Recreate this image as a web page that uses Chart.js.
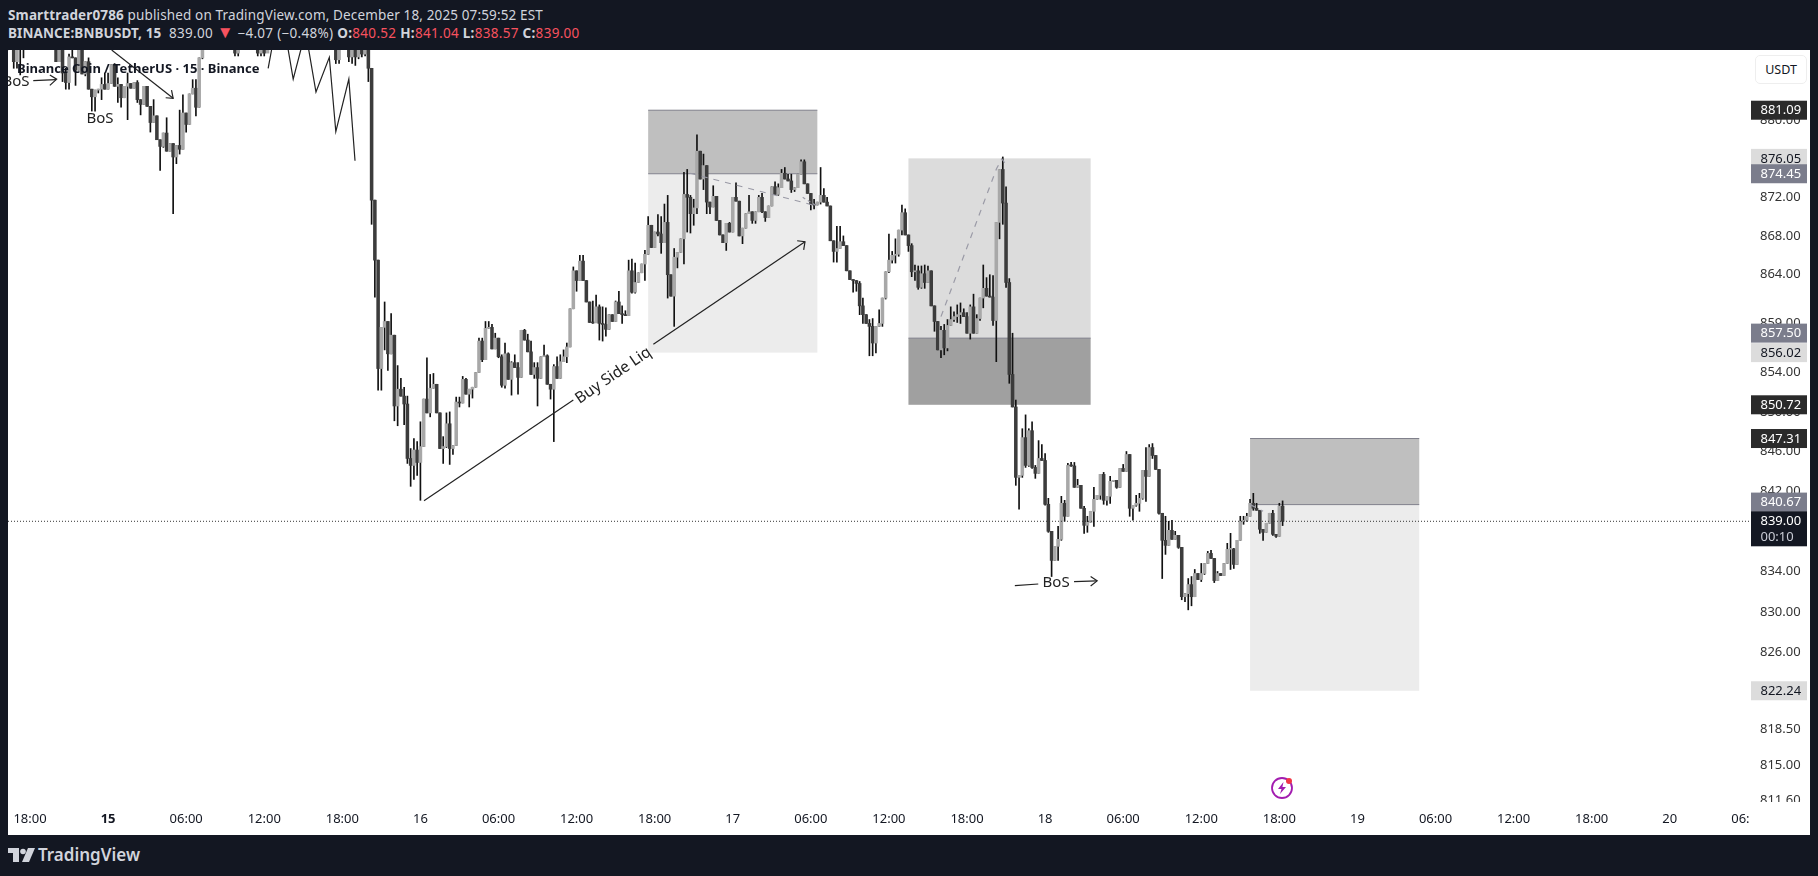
<!DOCTYPE html>
<html><head><meta charset="utf-8"><title>BNBUSDT</title>
<script src="https://cdn.jsdelivr.net/npm/chart.js@4"></script>
<style>
html,body{margin:0;padding:0;width:1818px;height:876px;overflow:hidden;background:#131722;font-family:"Noto Sans",sans-serif}
#pane{position:absolute;left:8px;top:50px;width:1802px;height:785px;background:#fff}
.hd{position:absolute;left:8px;color:#d1d4dc;font-size:13.5px;white-space:nowrap;line-height:18px}
.hd b{font-weight:700}.r{color:#f7525f}
#title{position:absolute;left:17px;top:59px;font-size:13px;font-weight:700;color:#131722;white-space:nowrap;line-height:18px}
#unit{position:absolute;left:1755px;top:55px;width:50px;height:27px;border:1px solid #eee;border-radius:5px;font-size:12.5px;color:#131722;text-align:center;line-height:27px;background:#fff}
#brand{position:absolute;left:38px;top:843px;color:#d1d4dc;font-size:17px;font-weight:600;line-height:24px}
svg{position:absolute}
</style></head><body>
<div id="pane"><canvas id="c" width="1802" height="785"></canvas></div>
<div class="hd" style="top:6px;letter-spacing:.14px"><b>Smarttrader0786</b> published on TradingView.com, December 18, 2025 07:59:52 EST</div>
<div class="hd" style="top:24px;letter-spacing:.3px"><b style="letter-spacing:.1px">BINANCE:BNBUSDT, 15</b>&nbsp; 839.00 <span class="r" style="font-size:17px;line-height:0;letter-spacing:0">▼</span> −4.07 (−0.48%) <b>O:</b><span class="r">840.52</span> <b>H:</b><span class="r">841.04</span> <b>L:</b><span class="r">838.57</span> <b>C:</b><span class="r">839.00</span></div>
<div id="title">Binance Coin / TetherUS · 15 · Binance</div>
<div id="unit">USDT</div>
<svg style="left:8px;top:847px" width="28" height="16" viewBox="0 0 28 16"><path d="M0 1h11v14H5V6H0z" fill="#d1d4dc"/><circle cx="15" cy="4.5" r="2.8" fill="#d1d4dc"/><path d="M20 1h7l-6 14h-7z" fill="#d1d4dc"/></svg>
<div id="brand">TradingView</div>
<svg style="left:1270px;top:776px" width="24" height="24" viewBox="0 0 24 24"><circle cx="12" cy="12" r="10" fill="#fff" stroke="#a21caf" stroke-width="1.8"/><path d="M13.5 6 8 13h3.5L10 18l6-7h-3.6z" fill="#a21caf"/><circle cx="19" cy="5" r="3" fill="#f23645"/></svg>
<script>
// 15-minute candles; x is the bar number counted from Dec 14 18:00
const firstBar = -7;
const firstOpen = 889;
const closes = [
889,890,886.2,889,887.8,888.5,889.5,890.2,889.4,890.8,
891.2,890.1,889.3,888.6,887.8,886.2,889,885,884,886.7,
886.6,885.3,888,884.9,886.2,883.3,882.5,883.2,883.3,883.8,
883.3,883.9,885.9,883.6,883.8,882.4,883.6,883.9,883.4,884,
882.2,881.7,883.6,881.5,879.8,880.5,878,877.3,878.7,876.8,
877.6,876.2,877.4,877,880.8,879.6,882.8,883.4,881.4,886.6,
889,890.4,891.2,890.5,892,891.4,890.2,889.6,888.7,889.8,
887.1,889,890.6,889.5,888.4,889.9,888.8,887.1,889,887.1,
888.3,889.7,891,890.2,889.1,888.2,889.6,890.9,889.8,888.6,
889.5,890.7,889.9,888.8,888.1,889.3,890.5,889.4,888.5,889.2,
888.4,886.4,889,888.5,888.1,886.7,889,886.7,889,887,
887.8,885.5,871.7,865.5,854.4,858.6,859.2,855.9,857.8,850.6,
852.3,851.6,850.8,845.3,844.6,846.15,844.9,846.5,851.3,849.9,
852.4,852.8,849.9,846.3,846.5,848.8,846.3,846.6,851.0,850.9,
853.3,851.8,852.3,852.5,854,857.2,855.3,858.5,858.6,856.4,
857.5,855.6,852.7,855.9,853.3,855,854.5,853.5,858.3,857.3,
856.1,853.8,854.5,853.4,855.6,855.7,852.8,852.3,854.6,853.4,
855.1,855.6,856.6,860.5,864.4,863.4,865.4,863.4,861.2,859.1,
859.05,860.7,859,858.9,858.4,859.9,859.2,861.2,860,859.9,
859.8,864.4,862.2,863.2,864.2,865.1,866.1,869.1,866.8,868.4,
868.2,867.3,869.4,864,861.8,865.8,866.3,867.7,872.3,872,
870.3,870.9,876.8,873.9,875.3,871.5,871,872.1,869.6,868.1,
867.3,869.3,868.4,872,871.6,868,868.8,870.3,870.5,869.6,
870.5,872,870.5,869.9,871.1,873.1,872.3,873,874.5,873.9,
873.7,872.8,873,874.4,875.7,873.4,872.4,871.3,871.2,871.5,
872.2,871.5,871.1,867.5,866.4,866.7,867.4,867,864.4,863.5,
863.4,863.1,860.8,859.9,859,858.7,857,858.7,859,861.6,
864.3,865.5,866,866.1,868.6,870.4,868.1,867,864.3,864.4,
862.7,864.1,863.2,864.4,860.8,859.2,856.3,858.3,856.5,858.8,
859.4,859.7,859.9,860.1,859.7,858,860.7,858,859.5,861.6,
862.6,861.8,861.7,859.3,869.4,874.9,871.4,863.2,853.8,850.5,
843.4,843.6,847.4,844.6,848.1,844.4,843.8,845.3,845.1,840.7,
838,835.1,836.5,837.2,840.8,839.5,844.6,844.55,842.4,842.6,
840.3,838.6,838.9,840,841.2,841.6,843.7,841.1,841.5,843,
843.1,842.4,844.3,844,845.7,840.3,840.6,840.8,841.3,844.1,
843.5,846.4,845.6,844.2,839.8,837.1,836.6,838.1,837.2,837.6,
836.4,831.5,831.8,832.7,831.5,833.8,833.2,833.8,834.8,835.8,
835.3,833.1,833.8,833.6,834.8,836.2,836.25,834.7,837.1,839,
839.1,839.5,840.8,840.3,840.1,838.2,837.9,838.8,839.8,837.7,
837.5,840.52,839];
const highs = [
891,891,890,890,889,889,890.5,891,890.5,891.5,
892,891,890.5,889.5,889,888.5,890,888.5,885.5,887,
888.5,886.6,888.5,888,886.2,886.6,883.3,883.2,883.3,884.5,
885,885,885.9,886,884.5,883.8,883.6,885,883.9,884,
884.2,882.2,883.6,883.6,881.5,882.2,880.5,878,878.7,880.3,
877.6,877.6,877.4,881.1,882.7,880.8,882.8,884.3,884.3,886.6,
890,891.2,892,891.8,893,892.5,891,890.8,890,890.8,
889,890,891.5,890.8,889.8,890.8,889.8,888.9,890,889,
889.5,890.8,892,891.3,890.3,889.4,890.6,892,890.9,889.8,
890.6,891.6,890.8,890,889.2,890.2,891.5,890.6,889.6,890.1,
889.4,888.6,890,889.6,889.2,888.3,890,889,890,889,
888.8,887.8,885.5,871.7,865.5,858.6,861.2,859.2,860,857.8,
854.7,853.4,852.5,851.6,846.3,847.3,847,849,851.3,855.5,
853.8,853.9,852.8,849.9,847.5,849.9,850,846.6,851.5,851.5,
853.6,853.4,852.3,852.5,854,857.5,857.5,859.2,859.2,858.9,
858,857.5,855.8,857,856,855.1,855.8,855,858.3,858.4,
857.9,857.2,855,855,855.6,856.8,855.8,852.8,854.8,855.6,
855.8,856.3,857,860.5,864.8,864.4,866,866,863.4,861.2,
861.3,861.9,860.9,860.7,860.6,859.9,859.9,861.3,862.3,860.8,
860.3,865.5,865.6,865.2,864.2,865.1,866.5,870,869.1,868.4,
870.2,870,871.3,872.2,864,866.7,866.3,867.7,874.6,874.9,
872.2,871.8,878.5,876.8,876.5,875.3,871.5,873.2,872.1,869.6,
868.1,869.3,869.4,872,873.5,871.6,868.8,870.3,872.2,870.5,
870.5,872.2,872.4,870.5,871.1,873.1,873.6,873.4,874.9,875.1,
874.4,874.4,873,874.4,875.9,875.9,873.4,872.4,871.8,871.5,
875.1,872.9,872,871.1,867.5,869,869,868,867,864.4,
863.5,863.4,863.3,861.6,859.9,859.4,859.5,858.7,860.4,861.6,
864.3,868.2,866.4,867.7,868.6,871.2,870.8,868.1,867.2,865,
864.9,864.9,865,864.9,864.4,860.8,859.2,858.7,858.9,859.4,
860.7,860.2,860.9,861.1,860.5,860.1,860.9,862,859.9,861.6,
865,863.7,864,863.9,869.4,874.9,876.2,873.1,863.6,858,
851.2,843.6,848.3,849.7,848.3,849,844.6,847.1,846.7,845.8,
841.3,838,836.5,838.5,841.5,841.1,844.8,844.9,844.9,843.2,
842.6,840.5,839.5,840,842.4,841.6,843.7,843.9,841.5,843.5,
843.1,843.1,844.3,844.7,846,845.7,840.6,841.6,841.8,844.1,
846.4,846.7,846.8,845.6,844.2,839.8,839.5,839,839.1,838,
837.6,836.4,831.8,833.3,833.5,834.2,833.8,834.8,834.8,836,
836.1,835.3,834,833.8,834.8,836.8,837.8,836.3,837.1,839.5,
839.5,839.8,841.2,841.8,840.8,840.1,838.2,838.8,839.8,840.1,
837.7,840.8,841.04];
const lows = [
888,888.5,885.5,885.5,884.8,886.6,888,888.5,888,888.6,
889,888.5,888,887.8,887.6,886.2,886.2,884.1,883.3,883.3,
886.6,883.7,885.3,884.9,884.7,883.3,881,881,882.9,882.2,
883.3,883.3,883.9,883.6,881.9,881.4,882.4,880.1,883.4,883.4,
881.9,880.6,881.7,881.5,878.8,879.8,878,874.8,877.2,876.8,
876.8,870.3,875.5,876.5,877,878.8,879.6,882.8,880.5,881.4,
886.5,888.2,889.4,889.2,889.6,890.2,889.5,888.6,887.9,888.2,
886.8,886.8,888.5,888.4,887.7,887.9,887.8,886.8,886.8,886.8,
887.6,888,889.2,889.3,888.3,887.7,888,889.2,888.9,887.8,
888,889,888.9,887.9,887.6,887.8,889,888.7,887.7,888,
887.7,886,886,887.6,887.6,886.2,886,885.8,886.5,886.7,
886.8,884.1,869.2,861.7,852.2,852.2,856.3,854.2,855.9,849.1,
848.6,851.6,848.7,844.8,842.5,843.2,843.6,841.1,846.5,849.9,
849.5,852.4,849.9,846.3,844.8,846.4,844.7,845.7,846.6,850.5,
850.9,851.8,850.5,851.4,852.5,854,855.1,855.3,858.5,856.4,
856.4,855.5,852.5,852.4,853.3,851.7,854.5,851.8,853.5,857.3,
856.1,853.8,853.4,850.6,853.4,855.6,852.8,851.3,847,853.4,
853.4,855.1,855,856.6,860.5,862.3,863.4,863.4,861.2,859.1,
859,859.1,857.3,857.2,857.7,858.4,859.2,859.2,860,859,
859.8,859.8,862.1,862.1,863.2,864.2,863.4,866.1,866.8,866.8,
868,866.2,867.3,861.6,861.8,858.7,864.7,866.3,865.1,868.4,
868.3,869.1,870.3,873.9,872.8,870.3,870.3,871,869.6,868.1,
867.3,866.5,868.4,868.4,871.6,868,867.2,868.8,870.3,869.3,
869.3,870.5,870.4,869.5,869.9,871.1,872.3,872.2,873,873.9,
873.7,872.5,872.6,873,874.4,873.4,872.4,870.7,870.8,871.2,
871.3,871.5,871.1,867.5,865.3,865.3,866.7,867,864.4,863.5,
862.2,862.3,859.9,859,859,855.7,855.7,856,858.7,858.7,
861.5,864.2,865.2,865.2,865.9,868.1,868.1,866.4,863.8,863.4,
862.5,862.6,862.6,863.2,860.8,858.2,856.3,855.5,855.8,856.2,
858.8,859.2,859.1,859,859.7,858,857.4,858,858,859.3,
860.6,861.8,861.7,858.8,855.1,867.7,869.2,862.7,852.9,850.5,
842.6,840.2,843.4,844.4,844.5,844.3,843.3,843.8,845.1,840.6,
837.9,833.5,835.1,835.1,837.1,839,839.5,844.5,842.4,842.4,
840.3,837.8,837.9,838.9,838.5,841.2,841.2,840.7,840.6,840.8,
843,842.3,842.4,844,844,839.5,839.1,840.5,840,841.2,
841,843.5,845.3,844.2,839.7,833.3,835.7,836.6,837.2,837.2,
836.3,831.2,831,830.2,830.6,831.5,833.2,833,833.7,834.8,
835.3,832.9,833.1,833.6,833.6,834.8,834.2,834.3,834.7,837.1,
838.7,839,839.5,840.1,840.1,837.8,837.1,837.9,838.8,837.6,
837.4,837.5,838.57];
const opens = [firstOpen, ...closes.slice(0, -1)];

const xTickBars = [0,24,48,72,96,120,144,168,192,216,240,264,288,312,336,360,384,408,432,456,480,504,528];
const xTickLabels = ["18:00","15","06:00","12:00","18:00","16","06:00","12:00","18:00","17","06:00","12:00","18:00","18","06:00","12:00","18:00","19","06:00","12:00","18:00","20","06:00"];
const yTickValues = [880,876,872,868,864,859,854,850,846,842,838,834,830,826,818.5,815,811.6];
const priceMin = 811.42, priceMax = 887.43, barMin = -6.76, barMax = 528.66;

// Position boxes: [start bar, end bar, top price, middle price, bottom price]
const boxStarts = [190,270,375];
const boxEnds = [242,326,427];
const boxTops = [881.09,876.05,847.31];
const boxMids = [874.45,857.50,840.67];
const boxBottoms = [856.02,850.72,822.24];

// Price tags on the axis
const tagValues = [881.09,876.05,874.45,857.50,856.02,850.72,847.31,840.67,822.24];
const tagKinds = ["dark","light","mid","mid","light","dark","dark","mid","light"];
const lastPrice = 839.00, countdown = "00:10";

// Hand-drawn lines, each point is [bar, price]
const buySideLow = [[121.1,841.06],[167,851.2]];
const buySideHigh = [[191.6,856.87],[238.2,867.4]];
const buySideHead = [[235.8,867.5],[238.2,867.4],[237.8,866.55]];
const zigzag = [[73.2,885.5],[75.3,889.4],[78.4,889.4],[80.9,884.35],[84.7,889.4],[87.9,883],[92,886.66],[94,878.84],[98,884.37],[99.9,875.8]];
const fallArrow = [[25.1,887.43],[44,882.34]];
const fallHead = [[41.7,882.4],[44,882.34],[43.5,883.2]];
const bosTopArrow = [[1,884.2],[8,884.3]];
const bosTopHead = [[6.1,884.8],[8.2,884.35],[6.1,883.7]];
const bosLowLeft = [[302.7,832.6],[309.9,832.76]];
const bosLowRight = [[320.9,833],[327.9,833.07]];
const bosLowHead = [[326,833.5],[328,833.07],[326,832.56]];
const dashOne = [[202.9,874.5],[241.8,871.1]];
const dashOneTip = [[237.5,872],[241.8,871.1]];
const dashTwo = [[280,859.7],[297.1,875],[298.7,876],[300,875.4]];
const dashThree = [[375,840.67],[379,840]];
const lastLine = [[barMin,lastPrice],[barMax,lastPrice]];

const notes = [
  {text:"Buy Side Liq", bar:179.3, price:853.7, angle:-34.3, size:15.5},
  {text:"BoS", bar:21.5, price:880.2, angle:0, size:15},
  {text:"BoS", bar:-4.3, price:884.1, angle:0, size:15},
  {text:"BoS", bar:315.4, price:832.9, angle:0, size:15}
];

const bars = closes.map((_, i) => i + firstBar);
const upColor = "#a8a8a8", downColor = "#3c3c3c", wickColor = "#111";
const fills = [["#bfbfbf","#ececec"],["#dcdcdc","#a0a0a0"],["#bfbfbf","#ececec"]];
const topLine = [true,false,true];
const tagStyle = {dark:["#2a2a2a","#fff"],light:["#dcdcdc","#131722"],mid:["#7b7d8c","#fff"]};
const tagShift = {857.5:-5, 840.67:-2.5};

const seg = (pts, dash, color, width) => ({type:"line", data:pts.map(p=>({x:p[0],y:p[1]})), borderColor:color||"#222", borderWidth:width||1.2,
  borderDash:dash||[], pointRadius:0, tension:0, order:1, fill:false});

const paint = {
  id:"paint",
  beforeDatasetsDraw(ch){
    const {ctx,scales:{x,y},chartArea:a}=ch;
    ctx.save();ctx.beginPath();ctx.rect(a.left,a.top,a.width,a.height);ctx.clip();
    boxStarts.forEach((s,i)=>{
      const l=x.getPixelForValue(s), r=x.getPixelForValue(boxEnds[i]);
      const t=y.getPixelForValue(boxTops[i]), m=y.getPixelForValue(boxMids[i]), b=y.getPixelForValue(boxBottoms[i]);
      ctx.fillStyle=fills[i][0];ctx.fillRect(l,t,r-l,m-t);
      ctx.fillStyle=fills[i][1];ctx.fillRect(l,m,r-l,b-m);
      ctx.strokeStyle="#80808c";ctx.lineWidth=1;ctx.beginPath();
      ctx.moveTo(l,m);ctx.lineTo(r,m);
      if(topLine[i]){ctx.moveTo(l,t);ctx.lineTo(r,t);}
      ctx.stroke();
    });
    ctx.restore();
  },
  afterDatasetsDraw(ch){
    const {ctx,scales:{x,y},chartArea:a}=ch;
    ctx.save();ctx.beginPath();ctx.rect(a.left,a.top,a.width,a.height);ctx.clip();
    ctx.fillStyle="#222";ctx.textAlign="center";ctx.textBaseline="middle";
    notes.forEach(n=>{
      ctx.save();ctx.translate(x.getPixelForValue(n.bar),y.getPixelForValue(n.price));
      ctx.rotate(n.angle*Math.PI/180);ctx.font=n.size+'px "Noto Sans"';ctx.fillText(n.text,0,0);ctx.restore();
    });
    ctx.restore();
  },
  afterDraw(ch){
    const {ctx,scales:{y},chartArea:a,width,height}=ch;
    ctx.save();
    ctx.fillStyle="#fff";
    ctx.fillRect(a.right,a.bottom,width-a.right,height-a.bottom);
    const L=a.right+1, W=56;
    ctx.textBaseline="middle";ctx.textAlign="left";ctx.font='13px "Noto Sans"';
    tagValues.forEach((v,i)=>{
      const c=y.getPixelForValue(v)+(tagShift[v]||0), st=tagStyle[tagKinds[i]];
      ctx.fillStyle=st[0];ctx.fillRect(L,c-9.5,W,19);
      ctx.fillStyle=st[1];ctx.fillText(v.toFixed(2),L+9.5,c+.5);
    });
    const c=y.getPixelForValue(lastPrice);
    ctx.fillStyle="#131722";ctx.fillRect(L,c-10,W,35);
    ctx.fillStyle="#fff";ctx.fillText(lastPrice.toFixed(2),L+9.5,c+.5);
    ctx.fillStyle="#c9ccd6";ctx.fillText(countdown,L+9.5,c+16.5);
    ctx.restore();
  }
};

new Chart(document.getElementById("c"),{
  type:"bar",
  data:{datasets:[
    {data:bars.map((b,i)=>({x:b,y:[lows[i],highs[i]]})),backgroundColor:wickColor,barThickness:1,grouped:false,order:3},
    {data:bars.map((b,i)=>({x:b,y:[opens[i],closes[i]]})),backgroundColor:bars.map((b,i)=>closes[i]>=opens[i]?upColor:downColor),barThickness:2.9,minBarLength:1,grouped:false,order:2},
    seg(lastLine,[1,2],"#333",1),
    seg(buySideLow),seg(buySideHigh),seg(buySideHead),seg(zigzag),seg(fallArrow),seg(fallHead),
    seg(bosTopArrow),seg(bosTopHead),seg(bosLowLeft),seg(bosLowRight),seg(bosLowHead),
    seg(dashOne,[6,6],"#9a9aa6"),seg(dashOneTip,[3,3],"#9a9aa6"),seg(dashTwo,[6,6],"#9a9aa6"),seg(dashThree,[6,6],"#9a9aa6")
  ]},
  options:{
    responsive:false,animation:false,events:[],
    layout:{padding:0,autoPadding:false},
    plugins:{legend:{display:false},tooltip:{enabled:false},title:{display:false}},
    scales:{
      x:{type:"linear",offset:false,min:barMin,max:barMax,bounds:"data",
        grid:{display:false,drawTicks:false},border:{display:false},
        afterBuildTicks(s){s.ticks=xTickBars.map(v=>({value:v}));},
        afterFit(s){s.height=33;s.paddingLeft=0;s.paddingRight=0;},
        ticks:{autoSkip:false,maxRotation:0,padding:9,color:"#131722",
          font:c=>({family:"Noto Sans",size:13,weight:xTickLabels[c.index]==="15"?"700":"400"}),
          callback:(v,i)=>xTickLabels[i]}},
      y:{type:"logarithmic",position:"right",min:priceMin,max:priceMax,bounds:"data",
        grid:{display:false,drawTicks:false},border:{display:false},
        afterBuildTicks(s){s.ticks=yTickValues.map(v=>({value:v}));},
        afterFit(s){s.width=60;s.paddingTop=0;s.paddingBottom=0;},
        ticks:{autoSkip:false,padding:10,color:"#333",font:{family:"Noto Sans",size:13},
          callback:v=>Number(v).toFixed(2)}}
    }
  },
  plugins:[paint]
});
</script></body></html>
